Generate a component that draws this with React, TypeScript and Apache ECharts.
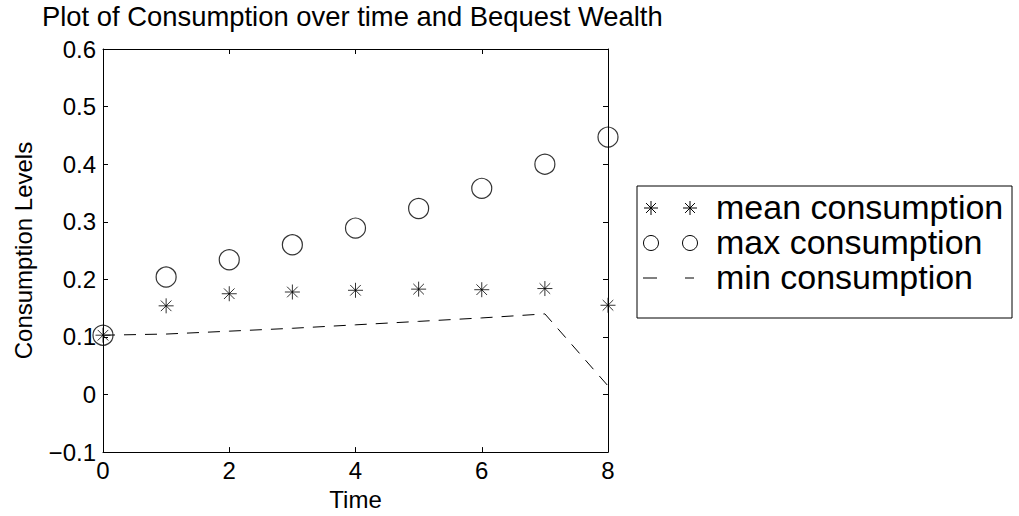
import React, { useEffect, useRef } from "react";
import * as echarts from "echarts";

const timeSteps = [0, 1, 2, 3, 4, 5, 6, 7, 8];
const meanConsumption = [0.103, 0.154, 0.175, 0.178, 0.181, 0.183, 0.182, 0.184, 0.155];
const maxConsumption = [0.103, 0.204, 0.234, 0.26, 0.289, 0.323, 0.358, 0.4, 0.447];
const minConsumption = [0.103, 0.105, 0.11, 0.115, 0.121, 0.127, 0.133, 0.14, 0.015];
const legendLabels = ["mean consumption", "max consumption", "min consumption"];

const FONT = "'Liberation Sans', Arial, Helvetica, sans-serif";
const STAR = "path://M0 -10L0 10M-10 0L10 0M-7.07 -7.07L7.07 7.07M-7.07 7.07L7.07 -7.07";

function starLines(cx: number, cy: number, r: number) {
  const d = r * 0.7071;
  const segs = [
    [cx, cy - r, cx, cy + r],
    [cx - r, cy, cx + r, cy],
    [cx - d, cy - d, cx + d, cy + d],
    [cx - d, cy + d, cx + d, cy - d],
  ];
  return segs.map((s) => ({
    type: "line",
    shape: { x1: s[0], y1: s[1], x2: s[2], y2: s[3] },
    style: { stroke: "#000", lineWidth: 1 },
  }));
}

export default function App() {
  const ref = useRef<HTMLDivElement>(null);
  useEffect(() => {
    if (!ref.current) return;
    const chart = echarts.init(ref.current, undefined, { renderer: "svg" });
    const yFmt = (v: number) => {
      const r = Math.round(v * 10) / 10;
      if (r === 0) return "0";
      return (r < 0 ? "\u2212" : "") + Math.abs(r).toFixed(1);
    };
    const axisCommon = {
      axisLine: { show: true, onZero: false, lineStyle: { color: "#000", width: 1 } },
      axisTick: { show: true, inside: true, length: 5, lineStyle: { color: "#000" } },
      splitLine: { show: false },
    };
    const lx = 637, ly = 186, lw = 375, lh = 132;
    const rows = [208, 243, 278];
    const m1 = 651, m2 = 690;
    const graphics: any[] = [
      { type: "rect", shape: { x: lx, y: ly, width: lw, height: lh }, style: { fill: "#fff", stroke: "#000", lineWidth: 1 }, z: 10 },
      ...starLines(m1, rows[0], 7).map((g) => ({ ...g, z: 11 })),
      ...starLines(m2, rows[0], 7).map((g) => ({ ...g, z: 11 })),
      { type: "circle", shape: { cx: m1, cy: rows[1], r: 7.5 }, style: { fill: "none", stroke: "#000", lineWidth: 1 }, z: 11 },
      { type: "circle", shape: { cx: m2, cy: rows[1], r: 7.5 }, style: { fill: "none", stroke: "#000", lineWidth: 1 }, z: 11 },
      { type: "line", shape: { x1: 643, y1: rows[2], x2: 657, y2: rows[2] }, style: { stroke: "#000", lineWidth: 1 }, z: 11 },
      { type: "line", shape: { x1: 685, y1: rows[2], x2: 694, y2: rows[2] }, style: { stroke: "#000", lineWidth: 1 }, z: 11 },
      ...legendLabels.map((t, i) => ({
        type: "text",
        x: 716,
        y: rows[i] - 1,
        style: { text: t, fill: "#000", font: `34px ${FONT}`, verticalAlign: "middle", textAlign: "left" },
        z: 11,
      })),
    ];
    chart.setOption({
      animation: false,
      backgroundColor: "#fff",
      textStyle: { fontFamily: FONT },
      title: {
        text: "Plot of Consumption over time and Bequest Wealth",
        left: 42,
        top: 3,
        padding: 0,
        textStyle: { fontSize: 27.4, fontWeight: "normal", color: "#000", fontFamily: FONT },
      },
      grid: { left: 103, right: 411, top: 49, bottom: 61, containLabel: false },
      xAxis: [
        {
          type: "value", min: 0, max: 8, interval: 2, position: "bottom",
          name: "Time", nameLocation: "middle", nameGap: 33,
          nameTextStyle: { fontSize: 24, color: "#000", fontFamily: FONT },
          axisLabel: { color: "#000", fontSize: 24, margin: 6, fontFamily: FONT },
          ...axisCommon,
        },
        {
          type: "value", min: 0, max: 8, interval: 2, position: "top",
          axisLabel: { show: false },
          ...axisCommon,
        },
      ],
      yAxis: [
        {
          type: "value", min: -0.1, max: 0.6, interval: 0.1, position: "left",
          name: "Consumption Levels", nameLocation: "middle", nameGap: 68, nameRotate: 90,
          nameTextStyle: { fontSize: 24, color: "#000", fontFamily: FONT },
          axisLabel: { color: "#000", fontSize: 24, margin: 7, formatter: yFmt, fontFamily: FONT },
          ...axisCommon,
        },
        {
          type: "value", min: -0.1, max: 0.6, interval: 0.1, position: "right",
          axisLabel: { show: false },
          ...axisCommon,
        },
      ],
      series: [
        {
          name: legendLabels[0],
          type: "scatter",
          data: timeSteps.map((t, i) => [t, meanConsumption[i]]),
          symbol: STAR,
          symbolSize: 15,
          itemStyle: { color: "transparent", borderColor: "#000", borderWidth: 1 },
          clip: false,
          z: 5,
        },
        {
          name: legendLabels[1],
          type: "scatter",
          data: timeSteps.map((t, i) => [t, maxConsumption[i]]),
          symbol: "circle",
          symbolSize: 20,
          itemStyle: { color: "transparent", borderColor: "#000", borderWidth: 1.2 },
          clip: false,
          z: 5,
        },
        {
          name: legendLabels[2],
          type: "line",
          data: timeSteps.map((t, i) => [t, minConsumption[i]]),
          symbol: "none",
          lineStyle: { color: "#000", width: 1, type: [12, 9] },
          z: 4,
        },
      ],
      graphic: graphics,
    });
    return () => chart.dispose();
  }, []);
  return <div ref={ref} style={{ position: "fixed", left: 0, top: 0, width: 1019, height: 516 }} />;
}
